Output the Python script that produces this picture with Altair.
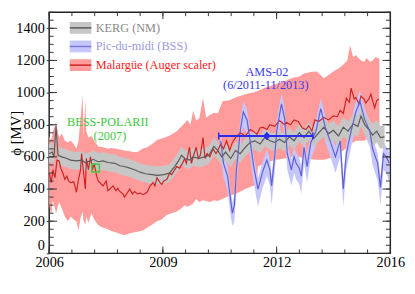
import altair as alt
import pandas as pd

# ---------------- data ----------------
# KERG (NM)
kerg_t = [2006.00, 2006.09, 2006.14, 2006.20, 2006.26, 2006.37, 2006.52, 2006.63, 2006.80, 2006.95,
          2007.06, 2007.21, 2007.29, 2007.44, 2007.58, 2007.72, 2007.93, 2008.07, 2008.21, 2008.36,
          2008.50, 2008.67, 2008.82, 2009.02, 2009.16, 2009.36, 2009.53, 2009.68, 2009.79, 2009.88,
          2009.97, 2010.11, 2010.22, 2010.40, 2010.54, 2010.68, 2010.83, 2010.94, 2011.06, 2011.17,
          2011.32, 2011.46, 2011.60, 2011.75, 2011.89, 2012.03, 2012.18, 2012.32, 2012.47, 2012.61,
          2012.75, 2012.90, 2013.04, 2013.18, 2013.33, 2013.47, 2013.61, 2013.76, 2013.90, 2014.05,
          2014.19, 2014.33, 2014.48, 2014.62, 2014.76, 2014.91, 2015.05, 2015.14, 2015.25, 2015.37,
          2015.48, 2015.60, 2015.71, 2015.83]
kerg_v = [620, 630, 600, 790, 610, 600, 590, 580, 575, 580,
          565, 575, 585, 570, 575, 565, 560, 545, 540, 530,
          520, 505, 495, 490, 485, 490, 500, 540, 575, 610,
          590, 580, 600, 590, 600, 610, 665, 640, 600, 630,
          590, 640, 620, 660, 690, 700, 680, 720, 700, 690,
          710, 690, 725, 700, 750, 720, 760, 715, 750, 785,
          745, 765, 730, 785, 760, 805, 790, 855, 800, 770,
          735, 760, 720, 725]
kerg_err = [60, 60, 55, 25, 55, 55, 55, 55, 55, 55,
            55, 55, 55, 55, 55, 55, 55, 55, 55, 55,
            55, 55, 55, 55, 55, 55, 55, 55, 55, 55,
            55, 55, 55, 55, 55, 55, 55, 55, 55, 55,
            55, 55, 55, 55, 55, 55, 55, 55, 55, 55,
            55, 55, 55, 55, 55, 55, 55, 55, 55, 60,
            60, 60, 60, 60, 60, 65, 65, 65, 65, 65,
            70, 70, 70, 70]

# Pic-du-midi (BSS)
bss_t = [2011.03, 2011.11, 2011.23, 2011.32, 2011.37, 2011.43, 2011.49, 2011.60, 2011.69, 2011.80,
         2011.89, 2011.98, 2012.03, 2012.12, 2012.21, 2012.26, 2012.38, 2012.47, 2012.52, 2012.61,
         2012.67, 2012.75, 2012.81, 2012.90, 2012.98, 2013.10, 2013.18, 2013.24, 2013.33, 2013.39,
         2013.47, 2013.56, 2013.67, 2013.82, 2013.96, 2014.10, 2014.25, 2014.39, 2014.53, 2014.62,
         2014.71, 2014.85, 2014.99, 2015.11, 2015.25, 2015.40, 2015.48, 2015.63, 2015.71, 2015.80,
         2015.88, 2015.97]
bss_v = [700, 560, 480, 330, 250, 300, 520, 760, 880, 830,
         700, 560, 500, 400, 470, 510, 580, 520, 420, 600,
         760, 860, 930, 840, 620, 520, 600, 560, 530, 480,
         660, 540, 690, 760, 900, 780, 690, 600, 700, 400,
         620, 760, 880, 945, 830, 760, 650, 560, 410, 620,
         600, 560]
bss_lo = [610, 470, 390, 230, 170, 200, 420, 670, 790, 740,
          610, 460, 400, 290, 370, 410, 480, 420, 300, 500,
          670, 770, 840, 750, 520, 420, 500, 460, 430, 370,
          560, 440, 590, 670, 810, 690, 600, 500, 600, 290,
          520, 660, 790, 855, 740, 660, 550, 450, 300, 520,
          500, 440]
bss_hi = [765, 625, 545, 395, 315, 365, 585, 825, 945, 895,
          765, 625, 565, 465, 535, 575, 645, 585, 485, 665,
          825, 925, 995, 905, 685, 585, 665, 625, 595, 545,
          725, 605, 755, 825, 965, 845, 755, 665, 765, 465,
          685, 825, 945, 1010, 895, 825, 715, 625, 475, 685,
          665, 625]

# Malargüe (Auger scaler) line
aug_t = [2006.00, 2006.06, 2006.11, 2006.17, 2006.23, 2006.29, 2006.34, 2006.40, 2006.46, 2006.52,
         2006.57, 2006.63, 2006.72, 2006.78, 2006.80, 2006.86, 2006.92, 2006.95, 2007.01, 2007.06,
         2007.09, 2007.15, 2007.21, 2007.27, 2007.32, 2007.39, 2007.44, 2007.53, 2007.58, 2007.67,
         2007.72, 2007.78, 2007.87, 2007.96, 2008.01, 2008.07, 2008.16, 2008.21, 2008.30, 2008.36,
         2008.44, 2008.50, 2008.59, 2008.67, 2008.76, 2008.87, 2008.96, 2009.05, 2009.10, 2009.16,
         2009.25, 2009.30, 2009.36, 2009.45, 2009.53, 2009.59, 2009.68, 2009.74, 2009.82, 2009.91,
         2009.97, 2010.02, 2010.11, 2010.17, 2010.22, 2010.31, 2010.37, 2010.43, 2010.51, 2010.57,
         2010.63, 2010.71, 2010.80, 2010.89, 2010.94, 2011.03, 2011.11, 2011.20, 2011.29, 2011.37,
         2011.46, 2011.60, 2011.75, 2011.89, 2011.98, 2012.09, 2012.18, 2012.26, 2012.38, 2012.47,
         2012.61, 2012.75, 2012.90, 2012.95, 2013.07, 2013.18, 2013.30, 2013.42, 2013.53, 2013.61,
         2013.70, 2013.79, 2013.90, 2014.05, 2014.19, 2014.33, 2014.45, 2014.53, 2014.62, 2014.71,
         2014.80, 2014.85, 2014.94, 2014.99, 2015.08, 2015.14, 2015.23, 2015.28, 2015.37, 2015.43,
         2015.48, 2015.54, 2015.60, 2015.66]
aug_v = [500, 440, 520, 470, 580, 575, 530, 500, 460, 480,
         450, 440, 445, 400, 380, 460, 520, 620, 500, 400,
         590, 520, 600, 520, 560, 480, 450, 430, 420, 450,
         390, 400, 420, 390, 405, 385, 370, 350, 380, 400,
         370, 385, 370, 375, 365, 380, 420, 440, 420, 470,
         440, 430, 450, 460, 500, 490, 520, 540, 530, 560,
         590, 560, 660, 560, 600, 660, 590, 610, 720, 590,
         620, 600, 650, 620, 640, 680, 650, 700, 640, 690,
         720, 750, 730, 770, 760, 740, 780, 785, 770, 800,
         790, 826, 800, 815, 800, 830, 820, 780, 770, 795,
         760, 830, 820, 845, 830, 855, 850, 890, 870, 966,
         940, 1028, 960, 970, 930, 978, 960, 936, 960, 991,
         950, 905, 950, 960]

# Malargüe uncertainty band
augb_t = [2006.00, 2006.06, 2006.11, 2006.20, 2006.29, 2006.37, 2006.46, 2006.55, 2006.63, 2006.72,
          2006.80, 2006.86, 2006.92, 2006.98, 2007.01, 2007.06, 2007.09, 2007.15, 2007.24, 2007.32,
          2007.44, 2007.58, 2007.72, 2007.81, 2007.96, 2008.10, 2008.21, 2008.36, 2008.47, 2008.59,
          2008.73, 2008.87, 2009.02, 2009.16, 2009.30, 2009.45, 2009.59, 2009.74, 2009.88, 2009.97,
          2010.05, 2010.14, 2010.22, 2010.31, 2010.40, 2010.51, 2010.60, 2010.71, 2010.83, 2010.94,
          2011.09, 2011.26, 2011.46, 2011.75, 2011.98, 2012.09, 2012.12, 2012.32, 2012.61, 2012.90,
          2013.10, 2013.33, 2013.47, 2013.70, 2013.85, 2014.05, 2014.19, 2014.33, 2014.48, 2014.62,
          2014.74, 2014.82, 2014.91, 2014.99, 2015.11, 2015.23, 2015.31, 2015.40, 2015.48, 2015.57,
          2015.68]
augb_lo = [300, 240, 330, 250, 320, 280, 230, 200, 230, 210,
           200, 143, 220, 260, 200, 180, 230, 190, 250, 210,
           175, 160, 150, 140, 130, 120, 113, 125, 130, 135,
           140, 160, 180, 200, 210, 240, 250, 260, 280, 300,
           290, 300, 310, 338, 320, 330, 326, 320, 330, 326,
           340, 357, 370, 400, 420, 420, 540, 560, 580, 590,
           600, 600, 590, 585, 582, 582, 590, 600, 620, 640,
           660, 680, 690, 700, 700, 700, 710, 700, 710, 720,
           710]
augb_hi = [730, 700, 760, 815, 720, 745, 700, 690, 700, 680,
           650, 700, 840, 980, 720, 950, 760, 720, 730, 700,
           665, 660, 650, 655, 650, 645, 640, 635, 630, 630,
           650, 660, 680, 705, 715, 725, 740, 760, 790, 810,
           830, 800, 887, 826, 840, 966, 845, 860, 875, 870,
           948, 950, 970, 990, 1000, 1009, 1010, 1030, 1051, 1070,
           1089, 1100, 1119, 1130, 1131, 1089, 1110, 1131, 1150, 1173,
           1200, 1295, 1220, 1234, 1204, 1190, 1215, 1192, 1200, 1222,
           1210]

# direct measurements
bess_t, bess_v = [2007.36], [530]
ams_t0, ams_t1, ams_v, ams_tc = 2010.97, 2013.73, 730, 2012.38

# axis ticks / labels
x_tick_labels = ["2006", "2009", "2012", "2016"]
y_tick_values = [0, 200, 400, 600, 800, 1000, 1200, 1400]
legend_names = ["KERG (NM)", "Pic-du-midi (BSS)", "Malargüe (Auger scaler)"]

# ---------------- chart ----------------
W, H = 348, 246
FONT = "'Liberation Serif', 'Times New Roman', 'DejaVu Serif', serif"
x_tick_pos = [2006 + i * 10 / 3 for i in range(len(x_tick_labels))]
x_minor = [2006 + k * 2 / 3 for k in range(16)]
y_minor = list(range(0, 1501, 50))

xs = alt.Scale(domain=[2006, 2016], nice=False, zero=False)
ys = alt.Scale(domain=[0, 1500], nice=False)

label_expr = "['" + "','".join(x_tick_labels) + "'][round((datum.value-2006)*3/10)]"
X_AXIS = alt.Axis(values=x_tick_pos, labelExpr=label_expr, title=None, grid=False, ticks=False,
                  domain=False, labelFont=FONT, labelFontSize=14.5, labelColor="black",
                  labelPadding=2, labelFlush=False)
Y_AXIS = alt.Axis(values=y_tick_values, format="d", title="ϕ [MV]", grid=False, ticks=True,
                  tickSize=3, tickColor="#333", domain=False, labelFont=FONT, labelFontSize=14.5,
                  labelColor="black", labelPadding=2,
                  labelOffset={"condition": {"test": "datum.value == 0", "value": -8}, "value": 0},
                  titleFont=FONT, titleFontSize=15,
                  titleFontWeight="normal", titleColor="black", titleX=-34, titleY=H / 2,
                  titleAngle=270, titleBaseline="middle", titleAlign="center")


def XN(f="t"):
    return alt.X(f"{f}:Q", scale=xs, axis=X_AXIS)


def YN(f="v"):
    return alt.Y(f"{f}:Q", scale=ys, axis=Y_AXIS)


kerg = pd.DataFrame({"t": kerg_t, "v": kerg_v, "e": kerg_err})
kerg["lo"] = kerg["v"] - kerg["e"]
kerg["hi"] = kerg["v"] + kerg["e"]
bss = pd.DataFrame({"t": bss_t, "v": bss_v, "lo": bss_lo, "hi": bss_hi})
aug = pd.DataFrame({"t": aug_t, "v": aug_v})
augb = pd.DataFrame({"t": augb_t, "lo": augb_lo, "hi": augb_hi})

pink_band = alt.Chart(augb).mark_area(color="#ff9b9b").encode(x=XN(), y=YN("lo"), y2="hi:Q")
blue_band = alt.Chart(bss).mark_area(color="#c6c6ff").encode(x=XN(), y=YN("lo"), y2="hi:Q")
gray_band = alt.Chart(kerg).mark_area(color="#c6c6c6").encode(x=XN(), y=YN("lo"), y2="hi:Q")
red_line = alt.Chart(aug).mark_line(color="#cc2424", strokeWidth=1.2).encode(x=XN(), y=YN())
gray_line = alt.Chart(kerg).mark_line(color="#5a5a5a", strokeWidth=1.2).encode(x=XN(), y=YN())
blue_line = alt.Chart(bss).mark_line(color="#5f5fd0", strokeWidth=1.2).encode(x=XN(), y=YN())

one = pd.DataFrame({"a": [0]})
AMS_C = "#2b2bf0"
ams_df = pd.DataFrame({"t0": [ams_t0], "t1": [ams_t1], "v": [ams_v], "tc": [ams_tc],
                       "vl": [ams_v - 22], "vh": [ams_v + 22]})
ams_bar = alt.Chart(ams_df).mark_rule(color=AMS_C, strokeWidth=2).encode(x=XN("t0"), x2="t1:Q", y=YN())
ams_cap0 = alt.Chart(ams_df).mark_rule(color=AMS_C, strokeWidth=1.5).encode(x=XN("t0"), y=YN("vl"), y2="vh:Q")
ams_cap1 = alt.Chart(ams_df).mark_rule(color=AMS_C, strokeWidth=1.5).encode(x=XN("t1"), y=YN("vl"), y2="vh:Q")
ams_err = alt.Chart(ams_df).mark_rule(color=AMS_C, strokeWidth=1.5).encode(x=XN("tc"), y=YN("vl"), y2="vh:Q")
ams_pt = alt.Chart(ams_df).mark_point(shape="diamond", filled=False, size=35, color=AMS_C,
                                      strokeWidth=1.5, opacity=1).encode(x=XN("tc"), y=YN())

bess_df = pd.DataFrame({"t": bess_t, "v": bess_v})
bess_pt = alt.Chart(bess_df).mark_point(shape="square", filled=False, size=60, color="#3ccc3c",
                                        strokeWidth=1.5, opacity=1).encode(x=XN(), y=YN())

# annotations (placed in data coordinates)
ann = pd.DataFrame({
    "t": [2007.72, 2007.78, 2012.38, 2012.35],
    "v": [815, 728, 1130, 1046],
    "txt": ["BESS-POLARII", "(2007)", "AMS-02", "(6/2011-11/2013)"],
    "col": ["#3ec83e", "#3ec83e", "#3a3ae8", "#3a3ae8"],
})
ann_text = alt.Chart(ann).mark_text(font=FONT, fontSize=12.5, baseline="middle", align="center").encode(
    x=XN(), y=YN(), text="txt:N", color=alt.Color("col:N", scale=None))

# legend (drawn by hand inside the plot)
leg_band = ["#c6c6c6", "#c6c6ff", "#ff9b9b"]
leg_line = ["#5a5a5a", "#7a7ad2", "#cc2424"]
leg_text = ["#888888", "#9a9ae0", "#ff1a1a"]
legend_layers = []
for i, name in enumerate(legend_names):
    yc = 16 + 19 * i
    legend_layers.append(alt.Chart(one).mark_rect(color=leg_band[i]).encode(
        x=alt.value(21), x2=alt.value(43), y=alt.value(yc - 6), y2=alt.value(yc + 6)))
    legend_layers.append(alt.Chart(one).mark_rule(color=leg_line[i], strokeWidth=1.5).encode(
        x=alt.value(21), x2=alt.value(43), y=alt.value(yc)))
    legend_layers.append(alt.Chart(one).mark_text(font=FONT, fontSize=12.5, align="left",
                                                  baseline="middle", color=leg_text[i]).encode(
        x=alt.value(47.5), y=alt.value(yc), text=alt.value(name)))


# inward ticks on all four sides
def y_ticks(vals, ln):
    df = pd.DataFrame({"v": vals})
    l = alt.Chart(df).mark_rule(color="#333", strokeWidth=1).encode(y=YN(), x=alt.value(0), x2=alt.value(ln))
    r = alt.Chart(df).mark_rule(color="#333", strokeWidth=1).encode(y=YN(), x=alt.value(W), x2=alt.value(W - ln))
    return [l, r]


def x_ticks(vals, ln):
    df = pd.DataFrame({"t": vals})
    b = alt.Chart(df).mark_rule(color="#333", strokeWidth=1).encode(x=XN(), y=alt.value(H), y2=alt.value(H - ln))
    t = alt.Chart(df).mark_rule(color="#333", strokeWidth=1).encode(x=XN(), y=alt.value(0), y2=alt.value(ln))
    return [b, t]


tick_layers = y_ticks(y_minor, 4.5) + y_ticks(y_tick_values, 8) + x_ticks(x_minor, 4) + x_ticks(x_tick_pos, 7)

chart = alt.layer(
    pink_band, blue_band, gray_band, red_line, gray_line, blue_line,
    ams_bar, ams_cap0, ams_cap1, ams_err, ams_pt, bess_pt, ann_text,
    *legend_layers, *tick_layers,
).properties(
    width=W, height=H,
    autosize=alt.AutoSizeParams(type="none"),
    padding={"left": 42, "top": 1.5, "right": 17, "bottom": 30},
).configure_view(stroke="#222", strokeWidth=1.5)

chart.save("out.html", embed_options={"renderer": "svg", "actions": False})
